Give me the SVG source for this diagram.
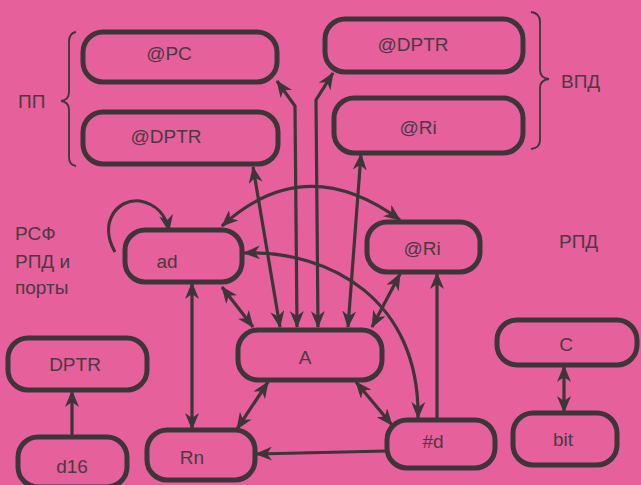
<svg xmlns="http://www.w3.org/2000/svg" width="641" height="485" viewBox="0 0 641 485">
<defs>
<marker id="ah" markerUnits="userSpaceOnUse" markerWidth="18" markerHeight="14" refX="16" refY="7" orient="auto-start-reverse">
<path d="M0,0 L17,7 L0,14 L5,7 z" fill="#3d3538"/>
</marker>
<style>
.node rect{fill:none;stroke:#3d3538;stroke-width:5}
.node text,.lbl{font-family:"Liberation Sans",Arial,sans-serif;font-size:19px;fill:#4a3a42;text-anchor:middle}
.lbl{text-anchor:start}
.c{fill:none;stroke:#3d3538;stroke-width:3.2}
.b{marker-start:url(#ah);marker-end:url(#ah)}
.e{marker-end:url(#ah)}
.br{fill:none;stroke:#3d3538;stroke-width:1.8}
</style>
</defs>
<rect width="641" height="485" fill="#e6609b"/>
<g id="brackets">
<path class="br" d="M76,32 Q69,33 69,42 L69,92 Q69,100 61,101 Q69,102 69,110 L69,157 Q69,165 76,166"/>
<path class="br" d="M531,12 Q540,13 540,22 L540,70 Q540,78 549,79 Q540,80 540,88 L540,140 Q540,148 531,149"/>
<text class="lbl" x="18" y="108">ПП</text>
<text class="lbl" x="561" y="88">ВПД</text>
<text class="lbl" x="559" y="248">РПД</text>
<text class="lbl" x="15" y="240">РСФ</text>
<text class="lbl" x="15" y="268">РПД и</text>
<text class="lbl" x="15" y="294">порты</text>
</g>
<g id="connectors">
<path class="c b" d="M297,327 L295,106 L277,81"/>
<path class="c b" d="M280,327 L253,167"/>
<path class="c b" d="M318,327 L316,100 L333,73"/>
<path class="c b" d="M348,327 L361,154"/>
<path class="c b" d="M372,327 L400,274"/>
<path class="c b" d="M222,287 L253,327"/>
<path class="c b" d="M222,226 Q305,150 400,220"/>
<path class="c e" d="M115,252 C98,222 118,198 140,201 C156,204 166,215 169,231"/>
<path class="c b" d="M244,253 C330,250 420,300 418,418"/>
<path class="c e" d="M437,420 L437,273"/>
<path class="c b" d="M192,283 L192,429"/>
<path class="c b" d="M268,382 L237,429"/>
<path class="c b" d="M356,382 L392,425"/>
<path class="c e" d="M387,451 L256,454"/>
<path class="c e" d="M72,437 L72,391"/>
<path class="c b" d="M564,366 L564,412"/>
</g>
<g id="n_pc" class="node"><rect x="83" y="32" width="194" height="50" rx="20"/><text x="169" y="60">@PC</text></g>
<g id="n_dptr_l" class="node"><rect x="83" y="112" width="195" height="52" rx="20"/><text x="166" y="143">@DPTR</text></g>
<g id="n_dptr_r" class="node"><rect x="325" y="19" width="198" height="53" rx="20"/><text x="413" y="51">@DPTR</text></g>
<g id="n_ri_t" class="node"><rect x="334" y="98" width="189" height="55" rx="20"/><text x="418" y="134">@Ri</text></g>
<g id="n_ad" class="node"><rect x="125" y="230" width="117" height="52" rx="20"/><text x="167" y="268">ad</text></g>
<g id="n_ri_m" class="node"><rect x="367" y="222" width="113" height="50" rx="20"/><text x="422" y="255">@Ri</text></g>
<g id="n_a" class="node"><rect x="238" y="330" width="144" height="50" rx="20"/><text x="305" y="364">A</text></g>
<g id="n_rn" class="node"><rect x="147" y="430" width="108" height="50" rx="20"/><text x="192" y="464">Rn</text></g>
<g id="n_dptr" class="node"><rect x="8" y="338" width="139" height="52" rx="20"/><text x="75" y="371">DPTR</text></g>
<g id="n_d16" class="node"><rect x="18" y="437" width="109" height="50" rx="20"/><text x="72" y="473">d16</text></g>
<g id="n_hd" class="node"><rect x="387" y="420" width="108" height="48" rx="20"/><text x="433" y="448">#d</text></g>
<g id="n_c" class="node"><rect x="497" y="320" width="140" height="45" rx="20"/><text x="566" y="351">C</text></g>
<g id="n_bit" class="node"><rect x="513" y="413" width="104" height="52" rx="20"/><text x="563" y="446">bit</text></g>
</svg>
